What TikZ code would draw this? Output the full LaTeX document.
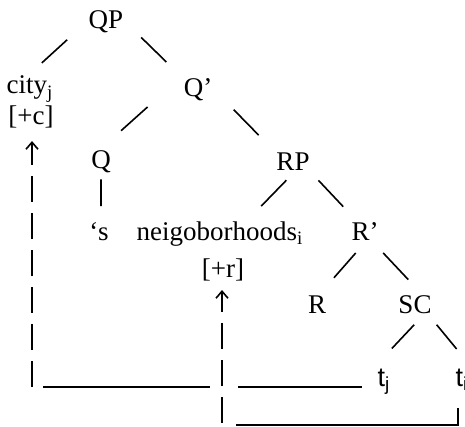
\documentclass[tikz,border=0pt]{standalone}
\usepackage{fontspec}
\setmainfont{Liberation Serif}
\setsansfont{Liberation Sans}
\usetikzlibrary{calc,arrows.meta}
\tikzset{
	word/.style={anchor=base, inner sep=1pt, font=\fontsize{13.5}{16}\selectfont},
	tword/.style={word, font=\fontsize{13.5}{16}\selectfont\sffamily},
	branch/.style={line width=0.8pt},
	link/.style={line width=0.8pt},
	trace/.style={line width=0.8pt, dash pattern=on 13pt off 5.5pt, -{Straight Barb[length=3.5pt,width=6pt]}, shorten >=3.5pt}
}
\def\branch(#1)(#2)(#3:#4){\draw[branch] ($(#1)!#3!(#2)$) -- ($(#1)!#4!(#2)$);}

\begin{document}
\begin{tikzpicture}[x=0.5pt, y=-0.5pt]
			%%%%% START %%%%%
			\useasboundingbox (0,0) rectangle (465,427);
			
			\node[word] (QP) at (106,29) {QP};
			\node[word] (city) at (30,94) {city\textsubscript{j}};
			\node[word] (plusc) at (31,125) {[+c]};
			\node[word] (Qbar) at (198,97) {Q’};
			\node[word] (Q) at (101,169) {Q};
			\node[word] (RP) at (293,171) {RP};
			\node[word] (poss) at (99,240) {‘s};
			\node[word] (neig) at (220,240) {neigoborhoods\textsubscript{i}};
			\node[word] (plusr) at (223,277) {[+r]};
			\node[word] (Rbar) at (365,240) {R’};
			\node[word] (R) at (317,313) {R};
			\node[word] (SC) at (415,313) {SC};
			\node[tword] (tj) at (384,386) {t\textsubscript{j}};
			\node[tword] (ti) at (462,386) {t\textsubscript{i}};
			
			\branch(QP.west)(city.north)(.34:.79)
			\branch(QP.east)(Qbar.north west)(.28:.73)
			\branch(Qbar.north west)(Q.north)(.42:.75)
			\branch(Qbar.east)(RP.north west)(.32:.74)
			\branch(Q.south)(Q.south |- poss.north)(.08:.69)
			\branch(RP.south)(neig.27)(.15:.72)
			\branch(RP.south east)(Rbar.130)(.15:.72)
			\branch(Rbar.south)(R.72)(.21:.7)
			\branch(Rbar.-54)(SC.64)(.21:.74)
			\branch(SC.-56)(tj.north west)(.18:.65)
			\branch(SC.-39)(ti.north east)(.18:.66)
			
			\coordinate (jfoot) at (32,387);
			\coordinate (jgap) at (222,387);
			\coordinate (ifoot) at (222,425);
			\coordinate (icorner) at (458,425);
			
			\draw[trace, shorten >=5pt] (jfoot) -- (jfoot |- plusc.south);
			\draw[trace, dash phase=17.25pt] (ifoot) -- (ifoot |- plusr.south);
			
			\draw[link, shorten <=5.5pt, shorten >=6pt] (jfoot) -- (jgap);
			\draw[link, shorten <=8pt, shorten >=6.5pt] (jgap) -- (jgap -| tj.west);
			\draw[link, shorten <=7pt, shorten >=7.5pt] (ifoot) -- (icorner) -- (icorner |- ti.south);
			
			%%%%% END %%%%%
\end{tikzpicture}
\end{document}
